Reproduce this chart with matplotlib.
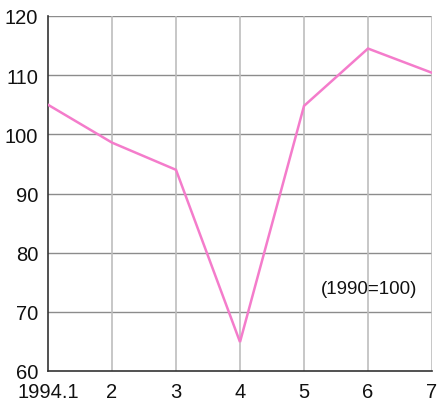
import matplotlib.pyplot as plt

plt.rcParams['font.family'] = ['Liberation Sans', 'DejaVu Sans']

months = [1, 2, 3, 4, 5, 6, 7]
month_labels = ['1994.1', '2', '3', '4', '5', '6', '7']
index_values = [105.0, 98.6, 94.0, 64.9, 104.8, 114.5, 110.4]
y_ticks = [60, 70, 80, 90, 100, 110, 120]

fig = plt.figure(figsize=(4.37, 4.10), dpi=100)
ax = fig.add_axes([48 / 437, 38 / 410, 384 / 437, 355 / 410])

for y in y_ticks[1:]:
    ax.axhline(y, color='#8c8c8c', linewidth=1.0, zorder=1)
for x in months[1:]:
    ax.axvline(x, color='#bdbdbd', linewidth=1.2, zorder=1)

ax.plot(months, index_values, color='#f47ccb', linewidth=1.8, zorder=3,
        solid_joinstyle='miter')

ax.set_xlim(1, 7)
ax.set_ylim(60, 120)
ax.set_xticks(months)
ax.set_xticklabels(month_labels)
ax.set_yticks(y_ticks)
ax.tick_params(length=0, labelsize=14.5, colors='#111111')
ax.tick_params(axis='y', pad=7)
ax.tick_params(axis='x', pad=8)

for side in ['top', 'right']:
    ax.spines[side].set_visible(False)
for side in ['left', 'bottom']:
    ax.spines[side].set_color('#333333')
    ax.spines[side].set_linewidth(1.2)

ax.text(6.02, 74.0, '(1990=100)', ha='center', va='center', fontsize=13.5,
        color='#111111', zorder=4)

fig.savefig('out.png', dpi=100)
